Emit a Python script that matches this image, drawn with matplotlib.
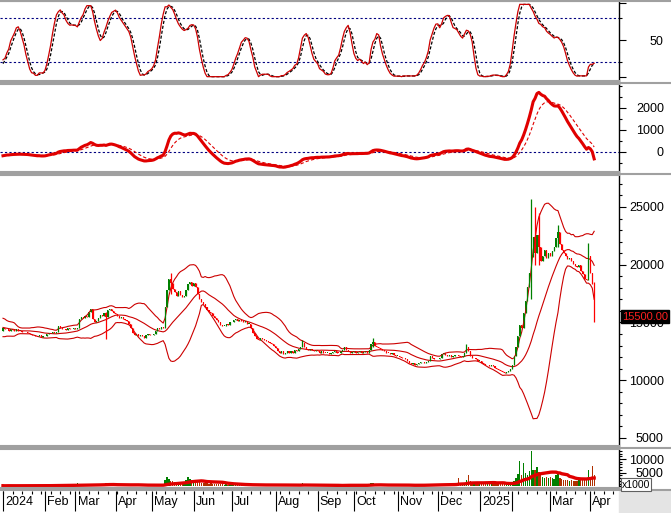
import numpy as np
import pandas as pd
import matplotlib
matplotlib.use("Agg")
import matplotlib.pyplot as plt
from matplotlib.lines import Line2D
from matplotlib.ticker import MultipleLocator, FixedLocator

plt.rcParams['font.family'] = ['Liberation Sans', 'DejaVu Sans']
plt.rcParams['font.size'] = 9

# trading days per month, Jan 2024 .. Apr 2025
month_labels = ["2024", "Feb", "Mar", "Apr", "May", "Jun", "Jul", "Aug", "Sep",
                "Oct", "Nov", "Dec", "2025", "", "Mar", "Apr"]
days_in_month = [22, 16, 21, 19, 22, 20, 23, 22, 19, 23, 21, 22, 17, 20, 21, 3]

# Dec 2023 closes, only used to warm up the indicators (not drawn)
warmup_close = [14900, 15100, 15300, 15000, 14800, 14700, 14900, 15200, 15000, 14700,
                14500, 14200, 14300, 14100, 14000, 14200, 14300, 14100, 14200, 14300]

# daily closes
close_jan24 = [14500, 14400, 14450, 14300, 14400, 14350, 14300, 14400, 14250, 14300, 14200,
               14150, 14200, 14100, 14000, 13900, 13950, 13850, 13800, 13900, 13750, 13800]
close_feb24 = [13850, 14000, 14100, 14050, 14150, 14100, 14200, 14700, 14500, 14400, 14450,
               14350, 14500, 14400, 14450, 14500]
close_mar24 = [14450, 14500, 15300, 15500, 15400, 15600, 15500, 15900, 16200, 15300, 15000,
               15100, 15400, 15650, 15600, 15800, 15500, 16100, 16200, 16000, 15800]
close_apr24 = [15700, 15600, 15400, 15500, 15300, 15200, 15100, 14900, 14500, 14100, 13900,
               14000, 13800, 13900, 13850, 13700, 13900, 14000, 13900]
close_may24 = [13900, 14000, 14300, 14500, 14400, 14600, 14500, 16300, 17800, 18800, 18400,
               17900, 17600, 17300, 17700, 17400, 17200, 17300, 17800, 18300, 18500, 18200]
close_jun24 = [18400, 18100, 17500, 17000, 16800, 16600, 16300, 16100, 15900, 15800, 15600,
               15400, 15200, 15000, 14800, 14700, 14700, 14900, 14800, 15000]
close_jul24 = [15000, 15200, 15300, 15100, 15200, 15100, 15000, 15100, 14900, 14900, 14500,
               14100, 13800, 13600, 13500, 13700, 13600, 13500, 13400, 13300, 13200, 13100, 13000]
close_aug24 = [12800, 12500, 12400, 12500, 12300, 12400, 12500, 12400, 12500, 12400, 12600,
               12500, 12700, 12900, 13200, 12900, 12700, 12600, 12700, 12600, 12500, 12600]
close_sep24 = [12500, 12400, 12500, 12400, 12350, 12400, 12300, 12400, 12450, 12500, 12400,
               12350, 12500, 12600, 12900, 12600, 12500, 12400, 12450]
close_oct24 = [12500, 12400, 12450, 12500, 12400, 12450, 12500, 12400, 12600, 13100, 13300,
               13000, 12900, 12800, 12700, 12600, 12500, 12400, 12350, 12300, 12350, 12200, 12100]
close_nov24 = [12100, 12000, 11900, 11950, 11800, 11700, 11500, 11400, 11450, 11350, 11400,
               11500, 11550, 11600, 11500, 11600, 11700, 12100, 11900, 11800, 11850]
close_dec24 = [11800, 11900, 12300, 12400, 12200, 12100, 12150, 12000, 12100, 12200, 12150,
               12100, 12000, 12100, 12400, 12900, 12500, 12100, 11900, 11950, 11800, 11700]
close_jan25 = [11700, 11500, 11400, 11300, 11350, 11200, 11300, 11250, 11100, 11000, 10900,
               10800, 10700, 10600, 10750, 10800, 11000]
close_feb25 = [11300, 12100, 12900, 13800, 14800, 14500, 15800, 16900, 18100, 19300, 20700,
               22400, 21000, 22600, 21500, 20300, 20800, 21300, 20600, 21000]
close_mar25 = [20800, 21200, 21500, 22300, 22800, 21800, 21300, 21000, 20800, 20500, 20600,
               20300, 20100, 19900, 19800, 20000, 19500, 19200, 18800, 18700, 20800]
close_apr25 = [19300, 18300, 15500]

# long shadows (day index, high, low)
wick_idx = [54, 88, 157, 194, 243, 277, 279, 281, 291, 307, 310]
wick_hi = [15900, 19300, 13500, 13700, 13100, 25700, 25000, 24500, 23400, 21900, 18500]
wick_lo = [13600, 17500, 12900, 12900, 12400, 17000, 20000, 20000, 21500, 19500, 15000]

# daily volume (x1000)
vol_jan24 = [250, 200, 300, 220, 180, 260, 240, 200, 300, 280, 220, 250, 200, 310, 270, 230,
             260, 300, 350, 280, 240, 260]
vol_feb24 = [300, 280, 250, 350, 400, 300, 320, 600, 450, 380, 300, 350, 330, 300, 280, 320]
vol_mar24 = [450, 1300, 700, 650, 500, 600, 550, 800, 750, 600, 500, 480, 550, 600, 500, 900,
             1100, 700, 650, 550, 500]
vol_apr24 = [500, 450, 400, 450, 500, 420, 400, 380, 600, 700, 550, 500, 450, 400, 380, 420,
             400, 380, 350]
vol_may24 = [350, 400, 450, 500, 420, 450, 500, 2200, 3600, 2800, 2000, 1800, 1500, 1300, 1600,
             1400, 1200, 1500, 2500, 3500, 2800, 2200]
vol_jun24 = [2000, 1800, 1500, 1600, 1400, 1200, 1300, 1100, 1000, 1200, 900, 1000, 800, 900,
             700, 800, 600, 700, 650, 600]
vol_jul24 = [500, 600, 550, 500, 450, 600, 500, 450, 400, 500, 550, 600, 700, 650, 500, 450,
             400, 450, 500, 400, 450, 500, 550]
vol_aug24 = [600, 500, 450, 400, 420, 380, 400, 420, 380, 400, 450, 400, 500, 700, 1100, 600,
             450, 400, 380, 360, 350, 400]
vol_sep24 = [350, 300, 320, 300, 280, 300, 260, 300, 320, 350, 300, 280, 350, 500, 900, 1000,
             450, 350, 300]
vol_oct24 = [350, 300, 320, 350, 300, 330, 350, 300, 600, 1400, 1200, 800, 600, 500, 450, 400,
             380, 350, 330, 300, 320, 300, 350]
vol_nov24 = [350, 380, 400, 350, 450, 500, 550, 600, 500, 450, 400, 420, 450, 500, 480, 500,
             550, 900, 700, 600, 550]
vol_dec24 = [600, 700, 1000, 900, 800, 700, 750, 650, 700, 750, 1200, 3000, 1000, 900, 1400,
             2200, 4300, 1800, 1200, 1000, 900, 800]
vol_jan25 = [800, 900, 1000, 1100, 900, 1000, 1200, 1100, 900, 1300, 1200, 1000, 1500, 1400,
             1100, 900, 1000]
vol_feb25 = [1200, 2000, 3000, 4500, 9300, 4000, 8400, 5000, 4200, 5500, 13000, 6000, 5900,
             7100, 5300, 4000, 3500, 3000, 3300, 3000]
vol_mar25 = [3500, 3000, 2800, 4200, 4500, 3000, 2600, 2400, 2200, 2500, 2000, 2300, 2100,
             1800, 2000, 2500, 2200, 2800, 3000, 2600, 5900]
vol_apr25 = [3500, 7400, 4000]

close = np.array(close_jan24 + close_feb24 + close_mar24 + close_apr24 + close_may24
                 + close_jun24 + close_jul24 + close_aug24 + close_sep24 + close_oct24
                 + close_nov24 + close_dec24 + close_jan25 + close_feb25 + close_mar25
                 + close_apr25, dtype=float)
volume = np.array(vol_jan24 + vol_feb24 + vol_mar24 + vol_apr24 + vol_may24 + vol_jun24
                  + vol_jul24 + vol_aug24 + vol_sep24 + vol_oct24 + vol_nov24 + vol_dec24
                  + vol_jan25 + vol_feb25 + vol_mar25 + vol_apr25, dtype=float)
n = len(close)
x = np.arange(n)
nw = len(warmup_close)

# OHLC
full = pd.Series(warmup_close + list(close), dtype=float)
open_full = full.shift(1).fillna(full.iloc[0]).values
hi_full = np.maximum(open_full, full.values)
lo_full = np.minimum(open_full, full.values)
for i, h, l in zip(wick_idx, wick_hi, wick_lo):
    hi_full[nw + i] = max(hi_full[nw + i], h)
    lo_full[nw + i] = min(lo_full[nw + i], l)
open_ = open_full[nw:]
high = hi_full[nw:]
low = lo_full[nw:]
up = close >= open_

# indicators
hh = pd.Series(hi_full).rolling(14, min_periods=1).max()
ll = pd.Series(lo_full).rolling(14, min_periods=1).min()
fast_k = 100 * (full - ll) / (hh - ll).replace(0, np.nan)
slow_k = fast_k.fillna(50).rolling(5, min_periods=1).mean()
slow_d = slow_k.rolling(3, min_periods=1).mean()

ema12 = full.ewm(span=12, adjust=False).mean()
ema26 = full.ewm(span=26, adjust=False).mean()
macd = ema12 - ema26
signal = macd.ewm(span=9, adjust=False).mean()

mid = full.rolling(20, min_periods=1).mean()
sd = full.rolling(20, min_periods=1).std(ddof=0)
upper = mid + 2 * sd
lower = mid - 2 * sd

slow_k, slow_d = slow_k.values[nw:], slow_d.values[nw:]
macd, signal = macd.values[nw:], signal.values[nw:]
mid, upper, lower = mid.values[nw:], upper.values[nw:], lower.values[nw:]
vol_ma = pd.Series(volume).rolling(20, min_periods=1).mean().values

month_start = np.cumsum([0] + days_in_month[:-1])

# ---- layout (pixel based) ----
W, H = 671, 513
fig = plt.figure(figsize=(W / 100, H / 100), dpi=100)
XR = 619
xlim = (-3 / 1.907, (XR - 3) / 1.907)


def px_axes(top, bottom, left=0, right=XR):
    return fig.add_axes([left / W, 1 - bottom / H, (right - left) / W, (bottom - top) / H])


def style(ax):
    ax.set_xlim(*xlim)
    ax.set_xticks([])
    ax.spines['left'].set_visible(False)
    for s in ('top', 'bottom'):
        ax.spines[s].set_color('#a0a0a0')
        ax.spines[s].set_linewidth(1.5)
    ax.spines['right'].set_color('black')
    ax.spines['right'].set_linewidth(1)
    ax.yaxis.tick_right()
    ax.tick_params(axis='y', which='major', direction='out', length=4.8, width=0.8, pad=27.5)
    ax.tick_params(axis='y', which='minor', direction='out', length=2.4, width=0.8)
    ax.patch.set_facecolor('white')


RED = '#e00000'
GREEN = '#008000'
NAVY = '#000080'

# stochastic
ax1 = px_axes(1, 81)
style(ax1)
ax1.set_ylim(-5.9, 103.2)
ax1.axhline(80, color=NAVY, lw=0.8, ls=(0, (2, 2)))
ax1.axhline(20, color=NAVY, lw=0.8, ls=(0, (2, 2)))
ax1.plot(x, slow_d, color='black', lw=0.9, ls=(0, (2.5, 1.5)))
ax1.plot(x, slow_k, color='#cc0000', lw=0.9)
ax1.yaxis.set_major_locator(FixedLocator([0, 50, 100]))
ax1.yaxis.set_minor_locator(FixedLocator([20, 80]))
ax1.set_yticklabels(['', '50', ''])

# MACD
ax2 = px_axes(84, 172)
style(ax2)
ax2.set_ylim(-909, 3090)
ax2.axhline(0, color=NAVY, lw=0.8, ls=(0, (2, 2)))
ax2.plot(x, signal, color=RED, lw=0.8, ls=(0, (3, 2)))
ax2.plot(x, macd, color=RED, lw=2.2)
ax2.yaxis.set_major_locator(FixedLocator([0, 1000, 2000]))
ax2.yaxis.set_minor_locator(MultipleLocator(500))

# price + bollinger
ax3 = px_axes(175, 446)
style(ax3)
ax3.set_ylim(4307, 27770)
for band in (upper, mid, lower):
    ax3.plot(x, band, color='#cc0000', lw=0.8)
cols = np.where(up, GREEN, '#ff0000')
ax3.vlines(x, low, high, colors=cols, lw=0.9)
body_lo = np.minimum(open_, close)
body_h = np.maximum(np.abs(close - open_), 60)
ax3.bar(x, body_h, bottom=body_lo, width=0.6, color=cols, linewidth=0)
ax3.yaxis.set_major_locator(MultipleLocator(5000))
ax3.yaxis.set_minor_locator(MultipleLocator(1000))
ax3.annotate(f"{close[-1]:.2f}", xy=(1, close[-1]), xycoords=('axes fraction', 'data'),
             xytext=(2.2, 0), textcoords='offset points', ha='left', va='center',
             color='#ff2020', fontsize=8, annotation_clip=False,
             bbox=dict(boxstyle='square,pad=0.12', fc='black', ec='black'))

# volume
ax4 = px_axes(449, 488)
style(ax4)
ax4.set_ylim(-584, 13650)
ax4.bar(x, volume, width=0.7, color=np.where(up, GREEN, '#b03000'), linewidth=0)
ax4.plot(x, vol_ma, color=RED, lw=2.4)
ax4.yaxis.set_major_locator(FixedLocator([5000, 10000]))
ax4.yaxis.set_minor_locator(MultipleLocator(1000))

for ax in (ax1, ax2, ax3, ax4):
    for lab in ax.get_yticklabels():
        lab.set_horizontalalignment('right')

fig.text(622 / W, 1 - 479.5 / H, 'x1000', fontsize=7.5, ha='left', va='top',
         bbox=dict(boxstyle='square,pad=0.1', fc='white', ec='#606060', lw=0.8))

# date strip
ax5 = px_axes(489, 513)
ax5.set_xlim(*xlim)
ax5.set_ylim(0, 1)
ax5.axis('off')
ax5.vlines(month_start, 0.1, 0.92, color='black', lw=0.8)
ax5.vlines(np.arange(0, n + 10, 5), 0.78, 0.92, color='black', lw=0.8)
for xs, lab in zip(month_start, month_labels):
    ax5.annotate(lab, xy=(xs, 0.45), xytext=(1.5, 0), textcoords='offset points',
                 ha='left', va='center', fontsize=9)

# separators and right strip
for yy in (0.5, 82.5, 173.5, 447.5, 489.5):
    fig.add_artist(Line2D([0, 1], [1 - yy / H, 1 - yy / H], transform=fig.transFigure,
                          color='#a0a0a0', lw=1.5))
fig.add_artist(plt.Rectangle((XR / W, 0), (W - XR) / W, (H - 491) / H,
                             transform=fig.transFigure, color='#e4e4e4', zorder=-1))

fig.savefig('out.png', dpi=100)
